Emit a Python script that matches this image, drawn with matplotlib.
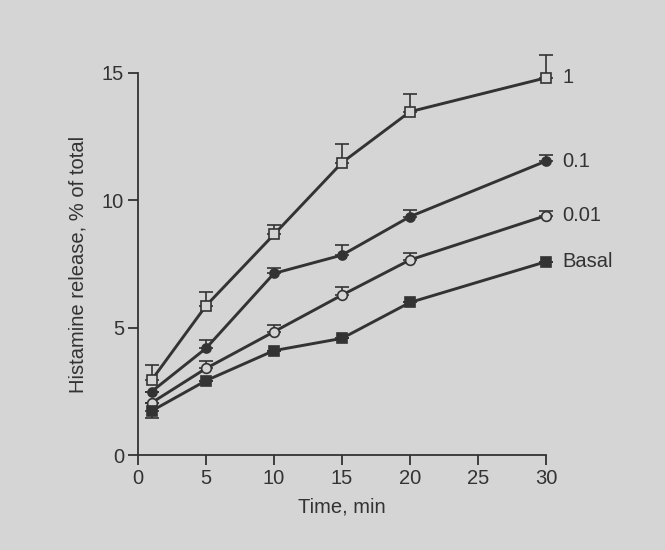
import matplotlib.pyplot as plt

plt.rcParams['font.family'] = ['Liberation Sans', 'DejaVu Sans']

# time points (min)
time = [1, 5, 10, 15, 20, 30]

# histamine release, % of total
rel_1 = [2.94, 5.86, 8.66, 11.48, 13.48, 14.81]
rel_01 = [2.49, 4.19, 7.13, 7.85, 9.36, 11.54]
rel_001 = [2.05, 3.40, 4.84, 6.28, 7.66, 9.40]
rel_basal = [1.73, 2.92, 4.10, 4.58, 5.99, 7.59]

# upper error bars (one-sided, as drawn)
err_1 = [0.59, 0.55, 0.37, 0.73, 0.69, 0.89]
err_01 = [0.0, 0.33, 0.23, 0.39, 0.26, 0.24]
err_001 = [0.0, 0.30, 0.26, 0.30, 0.28, 0.18]
err_basal_low = [0.28, 0, 0, 0, 0, 0]

labels = ['1', '0.1', '0.01', 'Basal']

bg = '#d5d5d5'
ink = '#333333'
fs = 14.5

fig = plt.figure(figsize=(6.65, 5.5), dpi=100)
fig.patch.set_facecolor(bg)
ax = fig.add_axes([0.2075, 0.1727, 0.6135, 0.6946])
ax.set_facecolor(bg)

series = [
    (rel_1, [[0] * 6, err_1], 's', bg, 7.5),
    (rel_01, [[0] * 6, err_01], 'o', ink, 6.5),
    (rel_001, [[0] * 6, err_001], 'o', bg, 7),
    (rel_basal, [err_basal_low, [0] * 6], 's', ink, 7),
]

for (vals, err, mk, face, ms), lab in zip(series, labels):
    ax.errorbar(time, vals, yerr=err, color=ink, lw=2.1, marker=mk, ms=ms,
                mfc=face, mec=ink, mew=1.2, capsize=5, elinewidth=1.2,
                capthick=1.2, clip_on=False, zorder=3)
    ax.text(31.2, vals[-1], lab, fontsize=fs, color=ink, va='center', ha='left')

ax.set_xlim(0, 30)
ax.set_ylim(0, 15)
ax.set_xticks([0, 5, 10, 15, 20, 25, 30])
ax.set_yticks([0, 5, 10, 15])
for s in ['top', 'right']:
    ax.spines[s].set_visible(False)
for s in ['left', 'bottom']:
    ax.spines[s].set_color(ink)
    ax.spines[s].set_linewidth(1.3)
ax.tick_params(direction='out', length=7, width=1.3, colors=ink,
               labelsize=fs, pad=3)
ax.set_xlabel('Time, min', fontsize=fs, color=ink, labelpad=7)
ax.set_ylabel('Histamine release, % of total', fontsize=fs, color=ink,
              labelpad=10)

fig.savefig('out.png', dpi=100, facecolor=bg)
